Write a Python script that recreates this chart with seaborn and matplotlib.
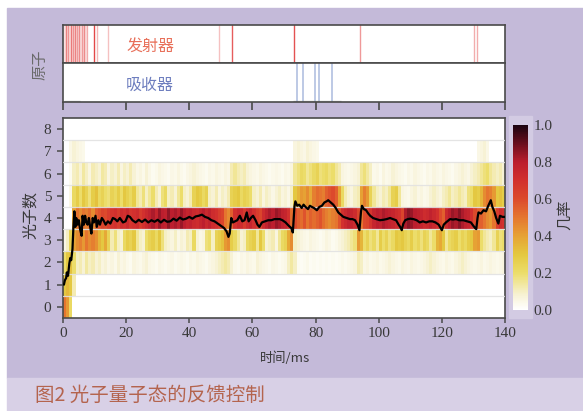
"""
plot.py
-------
Rétroaction sur l'état quantique du champ : atomes détectés + distribution du nombre de photons.
"""

import numpy as np
import pandas as pd
import matplotlib.pyplot as plt
import matplotlib.patches as mpatches
from matplotlib.colors import LinearSegmentedColormap
import seaborn as sns

W, H = 583, 411

# ── Données ──────────────────────────────────────────────────────────────────
# une colonne de la carte par ms (0..139), probabilités en %
P2 = [20, 30, 32, 20, 10, 12, 8, 14, 10, 12, 8, 10, 6, 8,
      5, 6, 4, 8, 5, 6, 4, 3, 6, 5, 4, 6, 8, 5, 4, 3, 5, 4, 3, 4,
      5, 3, 4, 5, 4, 3, 5, 4, 6, 5, 4, 3, 5, 6,
      8, 10, 12, 14, 12, 8,
      4, 3, 5, 4, 6, 5, 4, 8, 6, 5, 4, 3, 5, 4, 3, 4, 5,
      10, 14, 10,
      3, 2, 3, 4, 2, 3, 2, 3, 2, 3, 2, 3, 2, 3, 4, 3, 4, 5, 6,
      12, 10,
      5, 6, 4, 5, 6, 4, 5, 6, 8, 6, 5, 4, 6, 5, 4, 6, 5, 4, 5, 6,
      8, 10, 8, 6, 5, 4, 6, 5, 4, 6, 8, 10, 8, 6, 5, 4, 5, 6, 4, 5,
      6, 5, 4, 5, 6]
P3 = [5, 10, 25, 40, 45, 48, 42, 50, 45, 48, 44, 35, 30, 38,
      25, 12, 18, 10, 8, 22, 28, 25, 30, 15, 10, 8, 20,
      25, 28, 22, 30, 18, 10, 8, 6, 10, 5, 8, 6, 12,
      10, 22, 8, 5, 6, 18, 20, 10, 25, 28, 32, 42, 45,
      28, 22, 15, 8, 10, 22, 25, 28, 15, 30, 20,
      8, 10, 12, 6, 15, 22, 25, 38, 45,
      10, 8, 6, 5, 4, 6, 5, 4, 3, 4, 6, 5, 3, 4, 6, 8, 10, 12, 15, 18,
      42, 35,
      20, 25, 18, 22, 15, 28, 20, 25, 18, 22, 30, 28, 30,
      25, 22, 28, 20, 24, 18, 25, 22, 15, 20, 35, 38, 30,
      15, 22, 25, 28, 20, 25, 22, 28, 30, 40, 42,
      20, 15, 12, 10, 15, 25, 18, 20]
P4 = [0, 0, 0, 40, 50, 45, 50, 48, 52, 45, 55,
      58, 62, 60, 65,
      68, 70, 66, 72, 70, 74, 68, 70, 72, 66, 70, 74,
      78, 82, 76, 84, 80, 78, 85, 80, 82, 78, 84, 80, 76,
      78, 74, 72, 76, 80, 74, 78, 72, 70,
      65, 62, 50, 45, 55,
      70, 74, 72, 66, 72, 76, 70, 65, 62,
      72, 78, 82, 80, 84, 82, 78, 76, 70, 52,
      60, 55, 52, 58, 50, 55, 52, 55, 58, 52, 48, 45, 48, 50, 58,
      70, 74, 78, 76, 72, 62, 50, 60, 62, 68,
      76, 80, 78, 82, 80, 78, 76, 72, 70, 62,
      82, 86, 84, 80, 78, 76, 72, 74, 78, 74, 70, 60, 55,
      74, 80, 84, 82, 86, 82, 78, 76, 70, 60, 55,
      55, 50, 45, 42, 50, 65, 72, 70]
P5 = [0, 0, 5, 22, 28, 20, 30, 25, 18, 28, 32, 22, 25, 20,
      18, 25, 22, 28, 20, 30, 26, 22, 28, 15, 12, 18, 10,
      15, 20, 12, 8, 18, 22, 10, 12, 8, 15, 20, 10, 8, 12,
      25, 30, 28, 22, 26,
      10, 8, 12, 6, 10, 8, 12,
      25, 28, 30, 22, 26, 24, 20,
      10, 8, 12, 6, 10, 8, 5, 8, 10, 6, 8, 5, 10,
      30, 35, 42, 40, 45, 38, 48, 52, 50, 48, 55, 58, 60, 55, 40,
      22, 12, 8, 6, 10, 12, 40, 48, 42, 25,
      15, 10, 8, 12, 10, 15, 25, 28, 15,
      6, 5, 4, 6, 8, 5, 6, 4, 5, 8, 10, 8, 6, 10, 12, 15, 10, 12, 15, 12,
      10, 18, 20,
      30, 28, 35, 45, 50, 48, 42, 30, 32, 28]
P6 = [0, 0, 3, 10, 12, 8, 14, 10, 6, 12, 10, 8, 14, 12, 6, 10, 8, 12, 6, 10,
      8, 12, 8,
      5, 6, 4, 8, 5, 3, 4, 6, 5, 4, 3, 5, 4, 6, 4, 3, 5, 6, 8, 6, 5, 4, 3,
      5, 4, 6, 5, 4, 6, 5,
      12, 15, 12, 10, 12, 8,
      6, 5, 4, 6, 5, 4, 3, 4, 5, 4, 3, 5, 4, 6,
      15, 18, 22, 20, 15, 18, 22, 25, 18, 20, 22, 18, 20, 15, 12,
      6, 5, 4, 5, 6, 8, 15, 18, 14, 10,
      4, 5, 3, 6, 4, 5, 8, 6, 5, 4, 3, 5, 4, 6, 5, 4, 3, 5, 4, 6,
      5, 4, 6, 5, 4, 3, 5, 6, 8, 6, 5, 8,
      10, 12, 15, 18, 20, 15, 12, 10, 12, 8]
# lignes presque blanches : seulement les débuts / zones colorées
P0_START = [50, 42, 22]
P1_START = [30, 34, 30, 12]
P7_SEGMENTS = [(2, [5, 8, 6, 5, 4]), (73, [6, 8, 6, 5, 8, 6, 5, 4]), (131, [5, 6, 8, 5])]

# nombre moyen de photons (trait noir)
LINE_T = [0.3, 0.6, 1.0, 1.2, 1.6, 2.0, 2.3, 2.6, 3.0, 3.3, 3.6, 3.9, 4.2, 4.6, 5.0,
          5.4, 5.9, 6.2, 6.6, 7.0, 7.4, 7.8, 8.2, 8.6, 9.0, 9.4, 9.8, 10.3, 10.7,
          11.2, 11.7, 12.3, 12.8, 13.5, 14.2, 15.0, 15.8, 16.5, 17.2, 18.0, 19.0,
          19.8, 20.5, 21.2, 22.0, 23.0, 24.0, 25.0, 26.0, 27.0, 28.0, 29.0, 30.0,
          31.0, 32.0, 33.0, 34.0, 35.0, 36.0, 37.0, 38.0, 39.0, 40.0, 41.0, 42.0,
          43.0, 44.0, 45.0, 46.0, 47.0, 48.0, 49.0, 50.0, 51.0, 51.8, 52.4, 52.8,
          53.3, 53.8, 54.5, 55.2, 56.0, 56.8, 57.5, 58.2, 58.8, 59.5, 60.2, 61.0,
          61.6, 62.2, 63.0, 64.0, 65.0, 66.0, 67.0, 67.7, 68.7, 69.5, 70.5, 71.5,
          72.3, 72.8, 73.3, 73.6, 74.2, 74.8, 75.6, 76.2, 76.8, 77.6, 78.2, 78.8,
          79.5, 80.4, 81.2, 82.0, 82.8, 83.5, 84.0, 84.8, 85.6, 86.4, 87.2, 88.0,
          88.8, 89.8, 90.9, 91.7, 92.5, 93.3, 93.9, 94.4, 94.7, 95.3, 96.0, 96.7,
          97.3, 98.2, 99.2, 100.4, 101.5, 102.5, 103.6, 104.5, 105.5, 106.3, 106.8,
          107.3, 107.8, 108.4, 109.2, 110.0, 111.0, 112.0, 113.0, 114.0, 115.0,
          116.0, 117.0, 118.0, 119.0, 119.6, 120.0, 120.6, 121.3, 122.6, 123.5,
          124.5, 125.5, 126.8, 128.0, 129.2, 130.0, 130.5, 130.9, 131.3, 131.6,
          132.4, 133.2, 134.0, 134.7, 135.2, 135.5, 136.0, 136.6, 137.2, 137.9,
          138.4, 139.2, 140.0]
LINE_N = [1.0, 1.2, 1.3, 1.55, 1.4, 1.95, 2.2, 2.1, 2.6, 3.6, 4.3, 3.6, 4.0, 3.7, 3.9,
          3.5, 3.2, 4.1, 3.7, 4.1, 3.8, 3.7, 4.0, 3.6, 3.3, 4.0, 3.8, 4.1, 3.6,
          3.9, 3.7, 4.0, 3.9, 3.7, 3.85, 3.75, 4.0, 3.95, 3.85, 4.0, 3.8,
          3.85, 4.1, 4.05, 3.9, 3.8, 3.92, 3.82, 3.93, 3.8, 3.9, 3.83, 3.92,
          3.8, 3.92, 3.83, 3.85, 3.97, 3.88, 4.02, 3.93, 3.97, 4.05, 3.97, 4.07,
          4.1, 4.15, 4.05, 4.0, 3.9, 3.85, 3.75, 3.65, 3.55, 3.4, 3.15, 3.3,
          4.0, 3.8, 3.85, 3.9, 4.1, 3.85, 3.9, 4.25, 3.85, 4.0, 4.1, 3.9,
          3.7, 3.6, 3.8, 3.85, 3.9, 3.9, 3.95, 3.95, 3.95, 3.9, 3.8, 3.65,
          3.55, 3.35, 4.5, 4.75, 4.55, 4.6, 4.45, 4.6, 4.5, 4.4, 4.55, 4.5,
          4.45, 4.35, 4.5, 4.55, 4.7, 4.75, 4.8, 4.7, 4.6, 4.45, 4.25, 4.15,
          4.05, 4.0, 3.95, 3.95, 3.9, 3.7, 3.45, 4.3, 4.55, 4.4, 4.35, 4.2,
          4.1, 4.0, 3.95, 3.9, 3.92, 3.95, 4.0, 3.95, 3.9, 3.7, 3.6,
          3.45, 3.75, 3.9, 3.95, 3.97, 3.95, 3.9, 3.8, 3.85, 3.8,
          3.85, 3.85, 3.8, 3.7, 3.55, 3.45, 3.7, 3.8, 3.95, 3.93,
          3.95, 3.9, 3.9, 3.85, 3.8, 3.65, 3.55, 3.5, 4.0, 4.25,
          4.2, 4.35, 4.3, 4.55, 4.7, 4.8, 4.5, 4.3, 4.0, 3.75,
          4.1, 4.05, 4.05]

# détections d'atomes (ms) et intensité du trait
EMIT_T = [0.95, 1.7, 2.4, 3.1, 3.8, 4.5, 5.2, 5.9, 6.6, 7.5, 9.9, 10.7, 14.1,
          49.5, 53.6, 73.2, 94.1, 130.2, 131.2]
EMIT_ALPHA = [0.55, 0.45, 0.6, 0.45, 0.55, 0.4, 0.5, 0.4, 0.5, 0.3, 0.9, 0.35, 0.3,
              0.3, 0.8, 0.85, 0.5, 0.4, 0.4]
ABS_T = [74.2, 75.9, 79.8, 81.2, 85.1]
ABS_BASE = [(0.3, 5.4), (73.0, 88.0)]

X_TICKS = [0, 20, 40, 60, 80, 100, 120, 140]
Y_TICKS = [0, 1, 2, 3, 4, 5, 6, 7, 8]
CBAR_TICKS = [0.0, 0.2, 0.4, 0.6, 0.8, 1.0]

assert len(LINE_T) == len(LINE_N)
for p in (P2, P3, P4, P5, P6):
    assert len(p) == 140, len(p)

# ── Matrice de probabilité ───────────────────────────────────────────────────
prob = np.zeros((9, 140))
prob[0, :len(P0_START)] = P0_START
prob[1, :len(P1_START)] = P1_START
for n, p in zip([2, 3, 4, 5, 6], [P2, P3, P4, P5, P6]):
    prob[n] = p
for start, vals in P7_SEGMENTS:
    prob[7, start:start + len(vals)] = vals
prob = prob / 100.0

# ── Style ───────────────────────────────────────────────────────────────────
sns.set_style('ticks')
plt.rcParams['font.family'] = ['Liberation Serif', 'Noto Sans CJK SC', 'DejaVu Sans']
CJK = ['Noto Sans CJK SC', 'DejaVu Sans']
BG = '#C4BAD9'
BAND = '#D8D0E6'
SPINE = '#4a4a4a'
TXT = '#383838'

cmap = LinearSegmentedColormap.from_list('prob', [
    (0.0, '#FFFFFF'), (0.08, '#F7F2D4'), (0.2, '#ECDD6A'), (0.3, '#E4C840'),
    (0.4, '#E6A234'), (0.5, '#E5762F'), (0.6, '#DC4A2C'), (0.7, '#D2302E'),
    (0.8, '#BC1E2E'), (0.9, '#6A0E1E'), (1.0, '#1C0410')])

fig = plt.figure(figsize=(W / 100, H / 100), dpi=100)
fig.patch.set_facecolor('white')
fig.patches.append(mpatches.Rectangle((7 / W, 1 - 378 / H), 1, (378 - 8) / H,
                                      transform=fig.transFigure, color=BG, zorder=-5))
fig.patches.append(mpatches.Rectangle((7 / W, 0), 1, 1 - 378 / H,
                                      transform=fig.transFigure, color=BAND, zorder=-5))
fig.patches.append(mpatches.Rectangle((509 / W, 1 - 318 / H), 23 / W, 202 / H,
                                      transform=fig.transFigure, color='#D3CBE3', zorder=-4))


def px_axes(x0, y0, x1, y1):
    return fig.add_axes([x0 / W, 1 - y1 / H, (x1 - x0) / W, (y1 - y0) / H])


ax_em = px_axes(63, 25, 505, 63)
ax_ab = px_axes(63, 63, 505, 102)
ax = px_axes(63, 118, 505, 318)
cax = px_axes(513, 125, 528, 310)

# ── Panneaux atomes ─────────────────────────────────────────────────────────
for a in (ax_em, ax_ab):
    a.set_facecolor('white')
    a.set_xlim(0, 140)
    a.set_ylim(0, 1)
    a.set_yticks([])
    for s in a.spines.values():
        s.set_color(SPINE)
        s.set_linewidth(1.2)

ax_em.axvspan(0.3, 7.8, color='#F6C4C4', alpha=0.5, lw=0)
for t, al in zip(EMIT_T, EMIT_ALPHA):
    ax_em.axvline(t, color='#E03434', lw=1.0, alpha=al)
ax_em.set_xticks([])
ax_em.text(27.6, 0.45, '发射器', family=CJK, fontsize=11.5, color='#E8705A',
           ha='center', va='center')

for t in ABS_T:
    ax_ab.axvline(t, color='#9DAED8', lw=1.1, alpha=0.85)
for t0, t1 in ABS_BASE:
    ax_ab.hlines(0.03, t0, t1, color='#9a9a9a', lw=1.0, alpha=0.6)
ax_ab.text(27.6, 0.44, '吸收器', family=CJK, fontsize=11.5, color='#6E7EBF',
           ha='center', va='center')
ax_ab.set_xticks(X_TICKS)
ax_ab.set_xticklabels([])
ax_ab.tick_params(axis='x', direction='out', length=6, width=1.2, color=SPINE)

# ── Carte de probabilité ────────────────────────────────────────────────────
sns.heatmap(prob, ax=ax, cmap=cmap, vmin=0, vmax=1, cbar_ax=cax,
            xticklabels=False, yticklabels=False,
            cbar_kws={'ticks': CBAR_TICKS, 'format': '%.1f'})
cbar = ax.collections[0].colorbar
ax.set_ylim(0, 9)
ax.set_xlim(0, 140)
for yb in range(1, 9):
    ax.axhline(yb, color='#E2E2E2', lw=0.9, alpha=0.9, zorder=3)

line_df = pd.DataFrame({'t': LINE_T, 'n': LINE_N})
line_df['y'] = line_df['n'] + 0.5   # centre des cellules de la carte
sns.lineplot(data=line_df, x='t', y='y', ax=ax, color='black', lw=1.6,
             sort=False, zorder=5)

ax.set_xticks(X_TICKS)
ax.set_xticklabels([str(v) for v in X_TICKS])
ax.set_yticks([v + 0.5 for v in Y_TICKS])
ax.set_yticklabels([str(v) for v in Y_TICKS], rotation=0)
ax.set_xlabel('')
ax.set_ylabel('')
ax.tick_params(axis='x', direction='out', length=3.5, width=1.1, color=SPINE,
               labelsize=11, labelcolor=TXT, pad=3)
ax.tick_params(axis='y', direction='out', length=4.5, width=1.1, color=SPINE,
               labelsize=11, labelcolor=TXT, pad=4)
for s in ax.spines.values():
    s.set_visible(True)
    s.set_color(SPINE)
    s.set_linewidth(1.2)

cax.tick_params(length=0, labelsize=11, labelcolor=TXT, pad=4)
if cbar is not None:
    cbar.outline.set_visible(False)

# ── Textes ──────────────────────────────────────────────────────────────────
fig.text(40 / W, 1 - 65 / H, '原子', family=CJK, fontsize=11, color='#6a6a6a',
         rotation=90, ha='center', va='center')
fig.text(30 / W, 1 - 215 / H, '光子数', family=CJK, fontsize=11.5, color=TXT,
         rotation=90, ha='center', va='center')
fig.text(285 / W, 1 - 358 / H, '时间/ms', family=CJK, fontsize=9.5, color=TXT,
         ha='center', va='center')
fig.text(564 / W, 1 - 215 / H, '几率', family=CJK, fontsize=11, color=TXT,
         rotation=90, ha='center', va='center')
fig.text(35 / W, 1 - 395 / H, '图2 光子量子态的反馈控制', family=CJK, fontsize=14,
         color='#B4644E', ha='left', va='center')

fig.savefig('out.png', dpi=100, facecolor=fig.get_facecolor())
